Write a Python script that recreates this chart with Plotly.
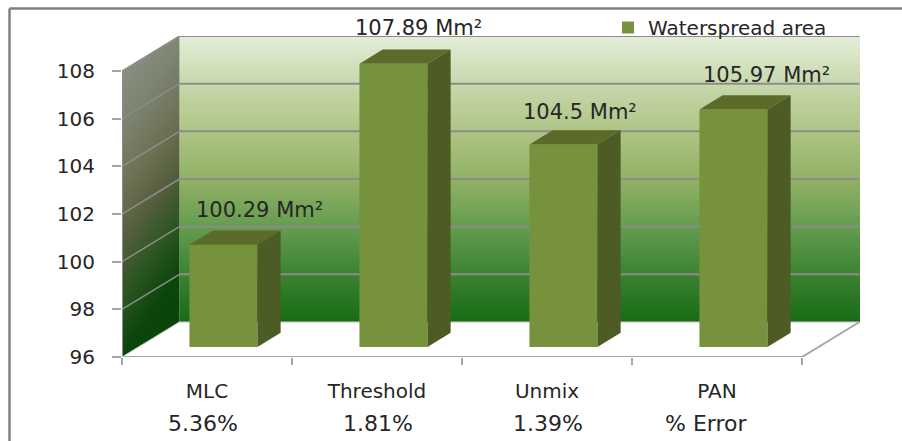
import base64
import struct
import zlib

import numpy as np
import plotly.graph_objects as go

# Chart data
methods = ["MLC", "Threshold", "Unmix", "PAN"]
errors = ["5.36%", "1.81%", "1.39%", "% Error"]
areas = [100.29, 107.89, 104.5, 105.97]
area_labels = ["100.29 Mm²", "107.89 Mm²", "104.5 Mm²", "105.97 Mm²"]
value_ticks = [96, 98, 100, 102, 104, 106, 108]

# Oblique projection: one unit of depth moves a point right and up
DEPTH_X = 0.338
DEPTH_Y = 1.469
Y_MIN, Y_MAX = 96, 108
BAR_WIDTH = 0.4
DEPTH_NEAR, DEPTH_FAR = 0.286, 0.69

PLOT_L, PLOT_R, PLOT_T, PLOT_B = 122, 860, 36, 357
W, H = 902, 441
x_range = [0, (PLOT_R - PLOT_L) / 170]
y_range = [Y_MIN, Y_MIN + (PLOT_B - PLOT_T) / 23.83]

FRONT = "#76923c"
TOP = "#5c6b2a"
SIDE = "#4d5b25"
GRID = "#8c8c8c"
INK = "#262626"
FONT = "DejaVu Sans"
SIZE = 20
LABEL_SIZE = 21
ERROR_SIZE = 22


def hex_rgb(c):
    return [int(c[i:i + 2], 16) for i in (1, 3, 5)]


def ramp(t, stops):
    pos = [s[0] for s in stops]
    rgb = np.array([hex_rgb(s[1]) for s in stops], dtype=float)
    return np.stack([np.interp(t, pos, rgb[:, k]) for k in range(3)], axis=-1)


def png_uri(rgba):
    """Encode an RGBA array as a PNG data URI."""
    h, w, _ = rgba.shape
    raw = b"".join(b"\x00" + rgba[r].astype(np.uint8).tobytes() for r in range(h))

    def chunk(tag, body):
        crc = zlib.crc32(tag + body) & 0xFFFFFFFF
        return struct.pack(">I", len(body)) + tag + body + struct.pack(">I", crc)

    png = (b"\x89PNG\r\n\x1a\n"
           + chunk(b"IHDR", struct.pack(">IIBBBBB", w, h, 8, 6, 0, 0, 0))
           + chunk(b"IDAT", zlib.compress(raw))
           + chunk(b"IEND", b""))
    return "data:image/png;base64," + base64.b64encode(png).decode()


# Back wall: vertical gradient, pale at the top and deep green at the floor
BACK_STOPS = [(0.0, "#186c16"), (0.15, "#3a8030"), (0.31, "#5f9a4e"), (0.47, "#8cae62"),
              (0.64, "#abc280"), (0.82, "#c6d7a9"), (1.0, "#e4eeda")]
rows = 321
t_back = np.linspace(1, 0, rows)
back_rgb = ramp(t_back, BACK_STOPS)
back = np.concatenate([back_rgb, np.full((rows, 1), 255.0)], axis=1)[:, None, :]

# Side wall: a parallelogram whose gradient darkens towards the lower corner
SIDE_STOPS = [(0.0, "#0a450a"), (0.2, "#2b5522"), (0.4, "#565f3e"), (0.55, "#6b6f52"),
              (0.8, "#7d8470"), (1.0, "#8a9080")]
side_w, side_h = 171, 963
u = (np.arange(side_w) + 0.5) / side_w
yy = np.linspace(Y_MAX + DEPTH_Y, Y_MIN, side_h)
U, Y = np.meshgrid(u, yy)
V = (Y - Y_MIN - U * DEPTH_Y) / (Y_MAX - Y_MIN)
side_rgb = ramp(np.clip(V - 0.15 * U, 0, 1), SIDE_STOPS)
alpha = np.where((V >= 0) & (V <= 1), 255.0, 0.0)
side_wall = np.concatenate([side_rgb, alpha[..., None]], axis=2)

images = [
    dict(source=png_uri(back), xref="x", yref="y", x=DEPTH_X, y=Y_MAX + DEPTH_Y,
         sizex=x_range[1] - DEPTH_X, sizey=Y_MAX - Y_MIN, xanchor="left", yanchor="top",
         sizing="stretch", layer="below"),
    dict(source=png_uri(side_wall), xref="x", yref="y", x=0, y=Y_MAX + DEPTH_Y,
         sizex=DEPTH_X, sizey=Y_MAX + DEPTH_Y - Y_MIN, xanchor="left", yanchor="top",
         sizing="stretch", layer="below"),
]


def seg(x0, y0, x1, y1, color=GRID, width=2):
    return dict(type="line", xref="x", yref="y", x0=x0, y0=y0, x1=x1, y1=y1,
                line=dict(color=color, width=width), layer="between")


shapes = []
n = len(methods)
for tick in value_ticks[1:]:
    shapes.append(seg(DEPTH_X, tick + DEPTH_Y, n + DEPTH_X, tick + DEPTH_Y))
    shapes.append(seg(0, tick, DEPTH_X, tick + DEPTH_Y, GRID, 1.5))
shapes += [
    seg(DEPTH_X, Y_MIN + DEPTH_Y, n + DEPTH_X, Y_MIN + DEPTH_Y, "#c4c4c4", 1),
    seg(0, Y_MIN, 0, Y_MAX),
    seg(0, Y_MIN, n, Y_MIN, "#a6a6a6", 2),
    seg(n, Y_MIN, n + DEPTH_X, Y_MIN + DEPTH_Y, "#a6a6a6", 2),
    seg(0, Y_MIN, DEPTH_X, Y_MIN + DEPTH_Y, "#c4c4c4", 1),
]

# Outer chart frame, open on the right and at the bottom
plot_w, plot_h = PLOT_R - PLOT_L, PLOT_B - PLOT_T
fx = lambda px: (px - PLOT_L) / plot_w
fy = lambda py: (PLOT_B - py) / plot_h
for a, b, c, d in [(9.5, 441, 9.5, 8.5), (9.5, 8.5, 902, 8.5)]:
    shapes.append(dict(type="line", xref="paper", yref="paper", x0=fx(a), y0=fy(b),
                       x1=fx(c), y1=fy(d), line=dict(color="#808080", width=2.5)))

fig = go.Figure()

# Front faces of the bars, lifted to their position on the floor
lift = DEPTH_NEAR * DEPTH_Y
centres = [i + 0.5 + DEPTH_NEAR * DEPTH_X for i in range(n)]
fig.add_trace(go.Bar(x=centres, y=[a - Y_MIN for a in areas], base=Y_MIN + lift,
                     width=BAR_WIDTH, opacity=1,
                     marker=dict(color=FRONT, opacity=1, line=dict(width=0)),
                     name="Waterspread area", hoverinfo="skip"))

# Top and side faces of the bars
dx = (DEPTH_FAR - DEPTH_NEAR) * DEPTH_X
dy = (DEPTH_FAR - DEPTH_NEAR) * DEPTH_Y
for cx, a in zip(centres, areas):
    left, right = cx - BAR_WIDTH / 2, cx + BAR_WIDTH / 2
    top = a + lift
    bottom = Y_MIN + lift
    fig.add_trace(go.Scatter(x=[left, right, right + dx, left + dx, left],
                             y=[top, top, top + dy, top + dy, top],
                             fill="toself", fillcolor=TOP, mode="lines", line=dict(width=0),
                             showlegend=False, hoverinfo="skip"))
    fig.add_trace(go.Scatter(x=[right, right + dx, right + dx, right, right],
                             y=[top, top + dy, bottom + dy, bottom, top],
                             fill="toself", fillcolor=SIDE, mode="lines", line=dict(width=0),
                             showlegend=False, hoverinfo="skip"))

# Value labels sit above and to the right of each bar
label_shift = [(36, 35), (25, 36), (17, 32), (33, 34)]
annotations = []
for cx, a, text, (sx, sy) in zip(centres, areas, area_labels, label_shift):
    annotations.append(dict(x=cx, y=a + lift, xref="x", yref="y", text=text, showarrow=False,
                            xshift=sx, yshift=sy,
                            font=dict(family=FONT, size=LABEL_SIZE, color=INK)))

# Second row under the category names
error_shift = [-4, 1, 1, -11]
for i, (text, sx) in enumerate(zip(errors, error_shift)):
    annotations.append(dict(x=i + 0.5, y=fy(423), xref="x", yref="paper", text=text,
                            showarrow=False, xshift=sx, yanchor="middle",
                            font=dict(family=FONT, size=ERROR_SIZE, color=INK)))

fig.update_layout(
    width=W, height=H,
    margin=dict(l=PLOT_L, r=W - PLOT_R, t=PLOT_T, b=H - PLOT_B, pad=0, autoexpand=False),
    paper_bgcolor="white", plot_bgcolor="rgba(0,0,0,0)",
    images=images, shapes=shapes, annotations=annotations,
    showlegend=True,
    legend=dict(x=fx(608), y=fy(8), xanchor="left", yanchor="top",
                bgcolor="rgba(0,0,0,0)", borderwidth=0,
                font=dict(family=FONT, size=SIZE, color=INK)),
    xaxis=dict(range=x_range, showgrid=False, zeroline=False, showline=False,
               tickmode="array", tickvals=[i + 0.5 for i in range(n)], ticktext=methods,
               ticks="", ticklabelstandoff=20,
               tickfont=dict(family=FONT, size=SIZE, color=INK),
               minor=dict(tickmode="array", tickvals=list(range(n + 1)), ticks="outside",
                          ticklen=7, tickwidth=2, tickcolor="#a6a6a6", showgrid=False)),
    yaxis=dict(range=y_range, showgrid=False, zeroline=False, showline=False,
               tickmode="array", tickvals=value_ticks, ticks="outside", ticklen=9,
               tickwidth=2, tickcolor="#a6a6a6", ticklabelstandoff=13,
               tickfont=dict(family=FONT, size=SIZE, color=INK)),
)

fig.write_html("out.html")
